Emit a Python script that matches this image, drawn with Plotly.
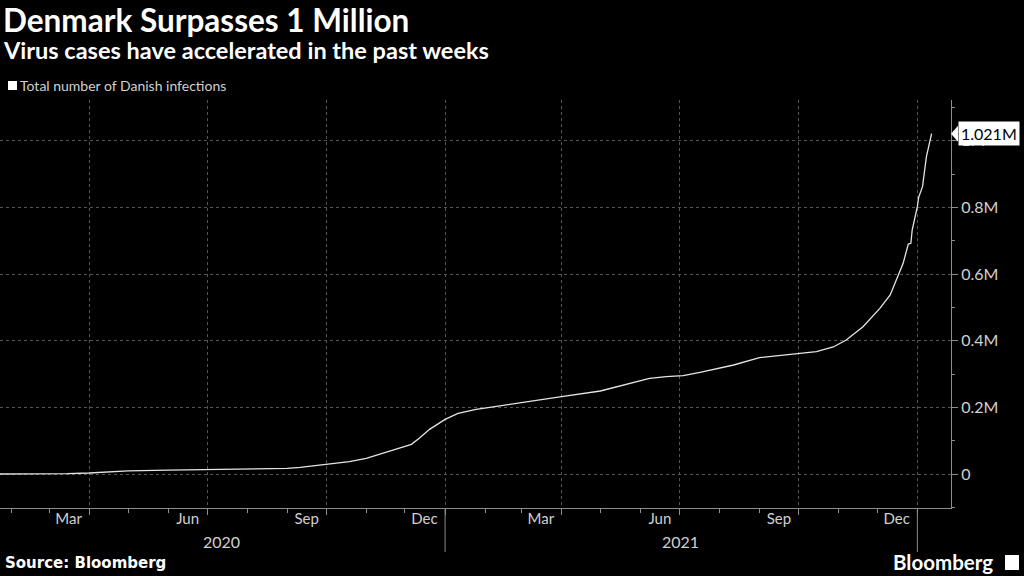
import plotly.graph_objects as go

# ---- data ----
dates = [
    "2020-01-23", "2020-03-01", "2020-03-15", "2020-04-01", "2020-05-01", "2020-06-01",
    "2020-07-01", "2020-08-01", "2020-09-01", "2020-09-11", "2020-10-01", "2020-10-19",
    "2020-11-01", "2020-11-14", "2020-11-27", "2020-12-06", "2020-12-12", "2020-12-20",
    "2021-01-01", "2021-01-11", "2021-01-25", "2021-02-12", "2021-03-10", "2021-04-01",
    "2021-05-01", "2021-05-26", "2021-06-08", "2021-06-21", "2021-07-04", "2021-07-17",
    "2021-08-12", "2021-09-01", "2021-09-19", "2021-10-01", "2021-10-15", "2021-10-28",
    "2021-11-07", "2021-11-20", "2021-12-03", "2021-12-11", "2021-12-17", "2021-12-21",
    "2021-12-25", "2021-12-27", "2021-12-28", "2022-01-01", "2022-01-02", "2022-01-05",
    "2022-01-08", "2022-01-12",
]
cases = [
    0, 0, 900, 3000, 9400, 11800,
    13000, 14500, 17000, 20000, 29000, 37000,
    47000, 62000, 77000, 89000, 107000, 134000,
    164000, 182000, 194000, 205000, 219000, 232000,
    249000, 274000, 287000, 292000, 295000, 305000,
    327000, 349000, 356000, 360000, 367000, 381000,
    402000, 442000, 497000, 537000, 592000, 632000,
    690000, 692000, 732000, 802000, 830000, 862000,
    952000, 1021000,
]
series_name = "Total number of Danish infections"

y_tick_vals = [0, 200000, 400000, 600000, 800000, 1000000]
y_tick_text = ["0", "0.2M", "0.4M", "0.6M", "0.8M", "1M"]

grid_dates = ["2020-04-01", "2020-07-01", "2020-10-01", "2021-01-01",
              "2021-04-01", "2021-07-01", "2021-10-01", "2022-01-01"]
month_label_dates = ["2020-03-16", "2020-06-16", "2020-09-16", "2020-12-16",
                     "2021-03-16", "2021-06-16", "2021-09-16", "2021-12-16"]
month_labels = ["Mar", "Jun", "Sep", "Dec", "Mar", "Jun", "Sep", "Dec"]
year_label_dates = ["2020-07-12", "2021-07-02"]
year_labels = ["2020", "2021"]
year_breaks = ["2021-01-01", "2022-01-01"]

x_range = ["2020-01-23", "2022-01-27"]
y_range = [-102000, 1122000]

FONT = "Lato"
GRID = "#555555"
AXIS = "#8c8c8c"
TXT = "#d0d0d0"

fig = go.Figure()
fig.add_trace(go.Scatter(
    x=dates, y=cases, mode="lines", name=series_name,
    line=dict(color="#e4e4e4", width=1.3), showlegend=False,
))
# invisible trace for the month-label axis
fig.add_trace(go.Scatter(x=[dates[0]], y=[0], xaxis="x2", mode="markers",
                         marker=dict(opacity=0), showlegend=False, hoverinfo="skip"))

fig.update_layout(
    width=1024, height=576,
    paper_bgcolor="black", plot_bgcolor="black",
    margin=dict(l=0, r=73, t=100, b=68),
    font=dict(family=FONT, color=TXT),
    xaxis=dict(
        type="date", range=x_range,
        tickmode="array", tickvals=grid_dates, ticktext=[""] * len(grid_dates),
        ticks="outside", ticklen=6, tickcolor=AXIS,
        showgrid=True, gridcolor=GRID, griddash="dot", gridwidth=1,
        showline=True, linecolor=AXIS, linewidth=1,
        zeroline=False,
        minor=dict(tickmode="linear", tick0="2020-01-01", dtick="M1",
                   ticks="outside", ticklen=4, tickcolor=AXIS, showgrid=False),
    ),
    xaxis2=dict(
        type="date", range=x_range, overlaying="x", anchor="y", side="bottom",
        tickmode="array", tickvals=month_label_dates, ticktext=month_labels,
        ticks="", showgrid=False, showline=False, zeroline=False,
        tickfont=dict(family=FONT, size=15, color=TXT),
    ),
    yaxis=dict(
        side="right", range=y_range,
        tickmode="array", tickvals=y_tick_vals, ticktext=y_tick_text,
        ticks="outside", ticklen=6, tickcolor=AXIS,
        tickfont=dict(family=FONT, size=16, color=TXT),
        showgrid=True, gridcolor=GRID, griddash="dot", gridwidth=1,
        showline=True, linecolor=AXIS, linewidth=1,
        zeroline=False,
        minor=dict(tickmode="linear", tick0=0, dtick=100000,
                   ticks="outside", ticklen=3, tickcolor=AXIS, showgrid=False),
    ),
)

ann = []
ann.append(dict(text="<b>Denmark Surpasses 1 Million</b>", xref="paper", yref="paper",
                x=0, y=(508 - 20) / 408, xanchor="left", yanchor="middle", xshift=1,
                showarrow=False, font=dict(family=FONT, size=31.5, color="white")))
ann.append(dict(text="<b>Virus cases have accelerated in the past weeks</b>", xref="paper",
                yref="paper", x=0, y=(508 - 50) / 408, xanchor="left", yanchor="middle",
                xshift=1, showarrow=False, font=dict(family=FONT, size=23.5, color="white")))
ann.append(dict(text=series_name, xref="paper", yref="paper", x=0, xshift=18,
                y=(508 - 86) / 408, xanchor="left", yanchor="middle", showarrow=False,
                font=dict(family=FONT, size=14, color=TXT)))
for d, t in zip(year_label_dates, year_labels):
    ann.append(dict(text=t, xref="x", yref="paper", x=d, y=(508 - 541) / 408,
                    xanchor="center", yanchor="middle", showarrow=False,
                    font=dict(family=FONT, size=16, color=TXT)))
ann.append(dict(text="<b>Source: Bloomberg</b>", xref="paper", yref="paper", x=0, xshift=3,
                y=(508 - 563) / 408, xanchor="left", yanchor="middle", showarrow=False,
                font=dict(family="DejaVu Sans", size=15, color="white")))
ann.append(dict(text="<b>Bloomberg</b>", xref="paper", yref="paper", x=1, xshift=-60,
                y=(508 - 562) / 408, xanchor="left", yanchor="middle", showarrow=False,
                font=dict(family=FONT, size=20.5, color="white")))
last = cases[-1]
ann.append(dict(text=f"{last / 1e6:.3f}M", xref="paper", yref="y", x=1, xshift=7,
                y=last, xanchor="left", yanchor="middle", showarrow=False,
                bgcolor="white", borderpad=2,
                font=dict(family=FONT, size=16, color="black")))
fig.update_layout(annotations=ann)

shapes = []
# legend swatch
shapes.append(dict(type="rect", xref="paper", yref="paper", x0=8 / 951, x1=17 / 951,
                   y0=(508 - 90) / 408, y1=(508 - 81) / 408,
                   fillcolor="white", line=dict(width=0)))
for d in year_breaks:
    shapes.append(dict(type="line", xref="x", yref="paper", x0=d, x1=d,
                       y0=0, y1=-44 / 408, line=dict(color=AXIS, width=1)))
# callout pointer
shapes.append(dict(type="path", xref="paper", yref="y",
                   path=f"M 1.0 {last} L {958 / 951} {last + 24000} L {958 / 951} {last - 24000} Z",
                   fillcolor="white", line=dict(width=0)))
# logo icon
shapes.append(dict(type="rect", xref="paper", yref="paper", x0=1005 / 951, x1=1019 / 951,
                   y0=(508 - 570) / 408, y1=(508 - 555) / 408,
                   fillcolor="white", line=dict(width=0)))
fig.update_layout(shapes=shapes)

fig.write_html("out.html", config={"displayModeBar": False},
               post_script="document.body.style.margin='0';document.body.style.background='black';")
